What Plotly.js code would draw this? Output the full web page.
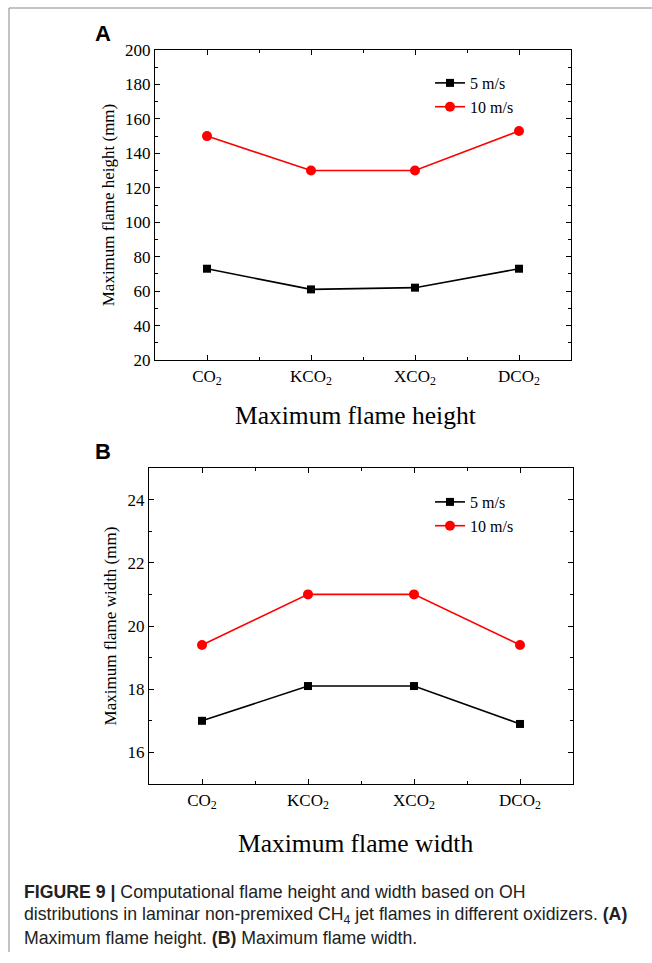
<!DOCTYPE html>
<html>
<head>
<meta charset="utf-8">
<script src="https://cdn.plot.ly/plotly-3.0.1.min.js"></script>
<style>html,body{margin:0;padding:0;background:#fff;}#chart{width:652px;height:963px;}</style>
</head>
<body>
<div id="chart"></div>
<script>
const categories = ["CO<sub>2</sub>", "KCO<sub>2</sub>", "XCO<sub>2</sub>", "DCO<sub>2</sub>"];
const catIndex = [0, 1, 2, 3];
const seriesNames = ["5 m/s", "10 m/s"];
const heightSlow = [73, 61, 62, 73];
const heightFast = [150, 130, 130, 153];
const widthSlow = [17.0, 18.1, 18.1, 16.9];
const widthFast = [19.4, 21.0, 21.0, 19.4];
const heightTicks = [20, 40, 60, 80, 100, 120, 140, 160, 180, 200];
const widthTicks = [16, 18, 20, 22, 24];

const serif = "Liberation Serif, Times New Roman, serif";
const W = 652, H = 963;
const px = v => v / W;
const py = v => 1 - v / H;

function trace(y, name, color, symbol, xa, ya, legend, size) {
  return {
    x: catIndex, y: y, name: name, type: "scatter", mode: "lines+markers",
    xaxis: xa, yaxis: ya, legend: legend,
    line: {color: color, width: 1.6},
    marker: {color: color, symbol: symbol, size: size}
  };
}

const data = [
  trace(heightSlow, seriesNames[0], "#000000", "square", "x", "y", "legend", 8),
  trace(heightFast, seriesNames[1], "#ff0000", "circle", "x", "y", "legend", 10),
  trace(widthSlow, seriesNames[0], "#000000", "square", "x2", "y2", "legend2", 8),
  trace(widthFast, seriesNames[1], "#ff0000", "circle", "x2", "y2", "legend2", 10)
];

function xAxis(domain, anchor) {
  return {
    domain: domain, anchor: anchor, range: [-0.5, 3.5],
    tickmode: "array", tickvals: catIndex, ticktext: categories,
    ticks: "inside", ticklen: 5, tickwidth: 1, tickcolor: "#000",
    minor: {tickmode: "array", tickvals: [0.5, 1.5, 2.5], ticks: "inside", ticklen: 3, tickcolor: "#000"},
    showline: true, linecolor: "#000", linewidth: 1.2, mirror: "allticks",
    showgrid: false, zeroline: false,
    tickfont: {family: serif, size: 17, color: "#000"},
    fixedrange: true
  };
}
function yAxis(domain, anchor, range, ticks, minorDtick, title) {
  return {
    domain: domain, anchor: anchor, range: range,
    tickmode: "array", tickvals: ticks,
    ticks: "inside", ticklen: 5, tickwidth: 1, tickcolor: "#000",
    minor: {dtick: minorDtick, ticks: "inside", ticklen: 3, tickcolor: "#000"},
    showline: true, linecolor: "#000", linewidth: 1.2, mirror: "allticks",
    showgrid: false, zeroline: false,
    tickfont: {family: serif, size: 17, color: "#000"},
    title: {text: title, font: {family: serif, size: 17, color: "#000"}, standoff: 6},
    fixedrange: true
  };
}

const captionFont = {family: "Liberation Sans, Arial, sans-serif", size: 17.7, color: "#222"};

const layout = {
  width: W, height: H,
  margin: {l: 0, r: 0, t: 0, b: 0},
  paper_bgcolor: "#fff", plot_bgcolor: "#fff",
  showlegend: true,
  xaxis: xAxis([px(155), px(571)], "y"),
  yaxis: yAxis([py(360), py(50)], "x", [20, 200], heightTicks, 10, "Maximum flame height (mm)"),
  xaxis2: xAxis([px(149), px(573)], "y2"),
  yaxis2: yAxis([py(784), py(468)], "x2", [15, 25], widthTicks, 1, "Maximum flame width (mm)"),
  legend: {x: px(430), y: py(66), xanchor: "left", yanchor: "top", bgcolor: "rgba(0,0,0,0)",
           font: {family: serif, size: 16, color: "#000"}, tracegroupgap: 0, itemwidth: 30},
  legend2: {x: px(430), y: py(485), xanchor: "left", yanchor: "top", bgcolor: "rgba(0,0,0,0)",
            font: {family: serif, size: 16, color: "#000"}, tracegroupgap: 0, itemwidth: 30},
  shapes: [
    {type: "line", xref: "paper", yref: "paper", x0: px(9), x1: 1, y0: py(8), y1: py(8), line: {color: "#888", width: 1}},
    {type: "line", xref: "paper", yref: "paper", x0: px(9), x1: px(9), y0: py(8), y1: py(952), line: {color: "#888", width: 1}}
  ],
  annotations: [
    {text: "<b>A</b>", xref: "paper", yref: "paper", x: px(103), y: py(33), xanchor: "center", yanchor: "middle", showarrow: false,
     font: {family: "Liberation Sans, Arial, sans-serif", size: 22, color: "#000"}},
    {text: "<b>B</b>", xref: "paper", yref: "paper", x: px(103), y: py(451), xanchor: "center", yanchor: "middle", showarrow: false,
     font: {family: "Liberation Sans, Arial, sans-serif", size: 22, color: "#000"}},
    {text: "Maximum flame height", xref: "paper", yref: "paper", x: px(355), y: py(415), xanchor: "center", yanchor: "middle", showarrow: false,
     font: {family: serif, size: 25.5, color: "#000"}},
    {text: "Maximum flame width", xref: "paper", yref: "paper", x: px(355), y: py(843), xanchor: "center", yanchor: "middle", showarrow: false,
     font: {family: serif, size: 25.5, color: "#000"}},
    {text: "<b>FIGURE 9 |</b> Computational flame height and width based on OH", xref: "paper", yref: "paper", x: px(22), y: py(892), xanchor: "left", yanchor: "middle", showarrow: false, font: captionFont},
    {text: "distributions in laminar non-premixed CH<sub>4</sub> jet flames in different oxidizers. <b>(A)</b>", xref: "paper", yref: "paper", x: px(22), y: py(915), xanchor: "left", yanchor: "middle", showarrow: false, font: captionFont},
    {text: "Maximum flame height. <b>(B)</b> Maximum flame width.", xref: "paper", yref: "paper", x: px(22), y: py(938), xanchor: "left", yanchor: "middle", showarrow: false, font: captionFont}
  ]
};

Plotly.newPlot("chart", data, layout, {displayModeBar: false, staticPlot: true});
</script>
</body>
</html>
